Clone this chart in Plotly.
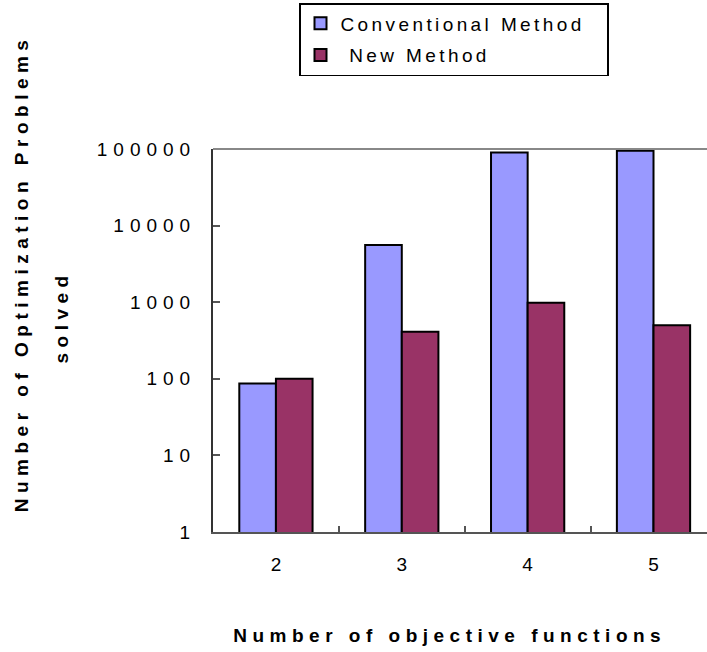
import plotly.graph_objects as go

categories = ["2", "3", "4", "5"]
conventional = [87, 5600, 90000, 95000]
new_method = [100, 410, 980, 500]
y_tickvals = [1, 10, 100, 1000, 10000, 100000]
y_ticktext = ["1", "10", "100", "1000", "10000", "100000"]

FONT = "Arial, Liberation Sans, sans-serif"

fig = go.Figure()
fig.add_trace(go.Bar(
    x=categories, y=conventional, name="Conventional Method",
    marker=dict(color="#9999FF", line=dict(color="#000000", width=2)),
    legendgroup="a",
))
fig.add_trace(go.Bar(
    x=categories, y=new_method, name="\u00a0New Method",
    marker=dict(color="#993366", line=dict(color="#000000", width=2)),
    legendgroup="b",
))

fig.update_layout(
    width=707, height=652,
    margin=dict(l=213, r=0, t=149, b=120),
    paper_bgcolor="white", plot_bgcolor="white",
    barmode="group", bargap=0.418, bargroupgap=0,
    font=dict(family=FONT, color="#000000", size=19),
    showlegend=True,
    legend=dict(
        x=(299 - 213) / 494, y=1 + (149 - 3) / 383, xanchor="left", yanchor="top",
        bordercolor="#000000", borderwidth=1.5, bgcolor="white",
        font=dict(family=FONT, size=19, color="#000000"),
        tracegroupgap=4,
    ),
    xaxis=dict(
        type="category", range=[-0.5, 3.425],
        showline=True, linecolor="#555555", linewidth=2,
        ticks="inside", ticklen=6, tickcolor="#555555", tickwidth=1.5,
        tickson="boundaries", showgrid=False, zeroline=False,
        tickfont=dict(family=FONT, size=19, color="#000000"),
        ticklabelstandoff=14,
    ),
    yaxis=dict(
        type="log", range=[0, 5],
        tickvals=y_tickvals, ticktext=y_ticktext,
        showline=True, linecolor="#333333", linewidth=2,
        ticks="inside", ticklen=7, tickcolor="#555555", tickwidth=1.5,
        showgrid=False, zeroline=False,
        tickfont=dict(family=FONT, size=19, color="#000000"),
        ticklabelstandoff=11,
    ),
    shapes=[dict(type="line", xref="paper", yref="paper", x0=0, x1=1, y0=1, y1=1,
                 line=dict(color="#888888", width=2))],
    annotations=[
        dict(text="<b>Number of Optimization Problems</b>", xref="paper", yref="paper",
             x=(21 - 213) / 494, y=(532 - 274) / 383, xanchor="center", yanchor="middle",
             textangle=-90, showarrow=False, font=dict(family=FONT, size=19, color="#000000")),
        dict(text="<b>solved</b>", xref="paper", yref="paper",
             x=(61 - 213) / 494, y=(532 - 317) / 383, xanchor="center", yanchor="middle",
             textangle=-90, showarrow=False, font=dict(family=FONT, size=19, color="#000000")),
        dict(text="<b>Number of objective functions</b>", xref="paper", yref="paper",
             x=(449 - 213) / 494, y=-(635 - 532) / 383, xanchor="center", yanchor="middle",
             showarrow=False, font=dict(family=FONT, size=19, color="#000000")),
    ],
)

post = """
document.body.style.margin = '0';
document.body.style.padding = '0';
var gd = document.getElementById('{plot_id}');
function applyLS(){
  function ls(sel, v){ gd.querySelectorAll(sel).forEach(function(t){ t.style.letterSpacing = v; }); }
  ls('.ytick text', '6px');
  ls('.annotation-text', '5.5px');
  ls('.legendtext', '3.4px');
  var lg = gd.querySelector('g.legend');
  if (lg) {
    lg.querySelectorAll('rect.bg').forEach(function(r){ r.setAttribute('width', 308); });
    lg.querySelectorAll('[clip-path]').forEach(function(e){ e.removeAttribute('clip-path'); });
  }
}
applyLS();
gd.on('plotly_afterplot', applyLS);
"""

fig.write_html("out.html", post_script=post, config={"displayModeBar": False})
